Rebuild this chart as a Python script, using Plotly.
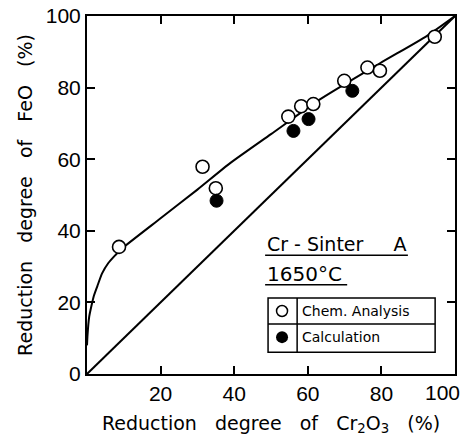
import plotly.graph_objects as go

# Data
chem_x = [8.7, 31.4, 35.0, 54.7, 58.2, 61.5, 69.9, 76.2, 79.6, 94.5]
chem_y = [35.5, 57.9, 51.9, 71.9, 74.8, 75.4, 81.9, 85.6, 84.7, 94.2]
calc_x = [35.2, 56.1, 60.2, 72.1]
calc_y = [48.4, 67.9, 71.2, 79.1]
curve_x = [0, 0.15, 0.6, 1.2, 1.8, 2.8, 4.1, 5.8, 7.7, 9.2, 20, 30, 38.9, 50, 63.3, 79.6, 92.3, 100]
curve_y = [8, 11, 16, 19, 21.6, 24.5, 28.1, 31, 33.2, 34.8, 43.5, 51.5, 58.9, 67, 76.7, 86.8, 94.4, 100]
diag_x = [0, 100]
diag_y = [0, 100]
x_ticks = [20, 40, 60, 80, 100]
y_ticks = [0, 20, 40, 60, 80, 100]

FONT = "Liberation Sans"
TFONT = "DejaVu Sans"
sp = "\u00a0" * 3

fig = go.Figure()
fig.add_trace(go.Scatter(x=diag_x, y=diag_y, mode="lines",
                         line=dict(color="black", width=2), showlegend=False))
fig.add_trace(go.Scatter(x=curve_x, y=curve_y, mode="lines",
                         line=dict(color="black", width=2, shape="spline", smoothing=0.6),
                         showlegend=False))
fig.add_trace(go.Scatter(x=chem_x, y=chem_y, mode="markers",
                         marker=dict(symbol="circle", size=13, color="white",
                                     line=dict(color="black", width=1.6)),
                         showlegend=False))
fig.add_trace(go.Scatter(x=calc_x, y=calc_y, mode="markers",
                         marker=dict(symbol="circle", size=13, color="black",
                                     line=dict(color="black", width=1)),
                         showlegend=False))

# Legend box drawn manually
fig.add_trace(go.Scatter(x=[53.0], y=[17.6], mode="markers",
                         marker=dict(symbol="circle", size=11, color="white",
                                     line=dict(color="black", width=1.5)),
                         showlegend=False))
fig.add_trace(go.Scatter(x=[53.0], y=[10.3], mode="markers",
                         marker=dict(symbol="circle", size=12, color="black"),
                         showlegend=False))
fig.add_shape(type="rect", x0=49.2, x1=94.6, y0=6.1, y1=21.2,
              line=dict(color="black", width=1.5))
fig.add_shape(type="line", x0=49.2, x1=94.6, y0=14.0, y1=14.0,
              line=dict(color="black", width=1.5))
fig.add_shape(type="line", x0=57.1, x1=57.1, y0=6.1, y1=21.2,
              line=dict(color="black", width=1.5))
fig.add_annotation(x=58.0, y=17.6, text="Chem. Analysis", showarrow=False,
                   xanchor="left", yanchor="middle", font=dict(size=14, family=TFONT, color="black"))
fig.add_annotation(x=58.0, y=10.3, text="Calculation", showarrow=False,
                   xanchor="left", yanchor="middle", font=dict(size=14, family=TFONT, color="black"))

fig.add_annotation(x=48.4, y=36.2, text="Cr\u00a0-\u00a0Sinter" + "\u00a0" * 5 + "A", showarrow=False,
                   xanchor="left", yanchor="middle", font=dict(size=19, family=TFONT, color="black"))
fig.add_shape(type="line", x0=48.4, x1=87.2, y0=33.2, y1=33.2, line=dict(color="black", width=1.5))
fig.add_annotation(x=48.4, y=27.9, text="1650°C", showarrow=False,
                   xanchor="left", yanchor="middle", font=dict(size=20, family=TFONT, color="black"))
fig.add_shape(type="line", x0=48.4, x1=70.7, y0=24.9, y1=24.9, line=dict(color="black", width=1.5))

axis_common = dict(range=[0, 100], showline=True, linecolor="black", linewidth=2,
                   mirror="ticks", ticks="inside", ticklen=8, tickwidth=1.5, tickcolor="black",
                   showgrid=False, zeroline=False, automargin=False,
                   tickfont=dict(size=21, family=FONT, color="black"))

# last x tick label (at the right edge) is drawn as an annotation so it stays inside the page
x_ticktext = [str(v) if v < 100 else "" for v in x_ticks]
fig.add_annotation(x=x_ticks[-1], y=0, xref="x", yref="y", text=str(x_ticks[-1]),
                   showarrow=False, xanchor="right", yanchor="middle", xshift=7, yshift=-18,
                   font=dict(size=21, family=FONT, color="black"))

fig.update_xaxes(**axis_common, tickvals=x_ticks, ticktext=x_ticktext,
                 title=dict(text="Reduction" + sp + "degree" + sp + "of" + sp + "Cr<sub>2</sub>O<sub>3</sub>" + sp + "(%)",
                            font=dict(size=19, family=TFONT, color="black"), standoff=12))
fig.update_yaxes(**axis_common, tickvals=y_ticks, ticktext=[str(v) for v in y_ticks],
                 title=dict(text="Reduction" + sp + "degree" + sp + "of" + sp + "FeO" + sp + "(%)",
                            font=dict(size=19, family=TFONT, color="black"), standoff=8))

fig.update_layout(width=465, height=441, margin=dict(l=87, r=10, t=16, b=67),
                  plot_bgcolor="white", paper_bgcolor="white",
                  font=dict(family=FONT, color="black"))

fig.write_html("out.html")
